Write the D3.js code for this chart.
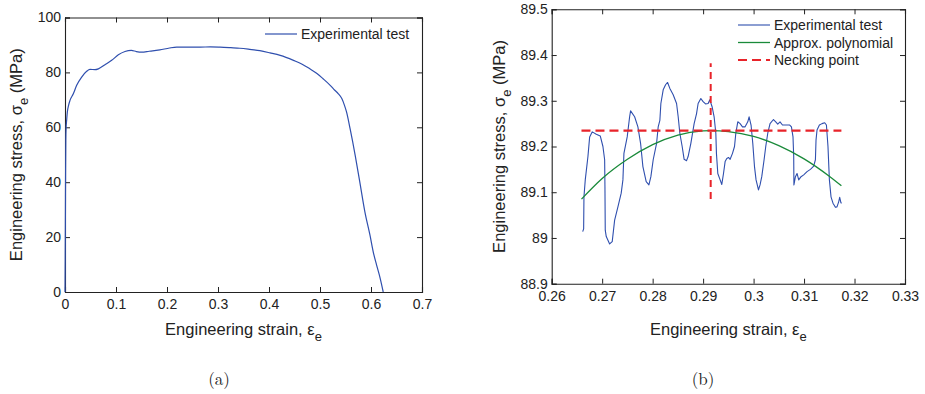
<!DOCTYPE html>
<html>
<head>
<meta charset="utf-8">
<script src="https://cdn.jsdelivr.net/npm/d3@7"></script>
<style>
  body { margin: 0; background: #fff; }
  svg text { font-family: "Liberation Sans", Arial, Helvetica, sans-serif; fill: #222; }
</style>
</head>
<body>
<svg id="chart" width="925" height="394"></svg>
<script>
// ---- panel (a): whole tensile test
var strainA = [0, 0.0004, 0.0008, 0.0012, 0.0016, 0.0022, 0.0032, 0.0046, 0.0070, 0.0098, 0.0163, 0.0229, 0.0327, 0.0425,
               0.049, 0.0588, 0.0654, 0.0784, 0.0915, 0.1046, 0.1176, 0.130, 0.140, 0.150, 0.165, 0.186, 0.205, 0.219,
               0.240, 0.265, 0.285, 0.304, 0.325, 0.343, 0.362, 0.382, 0.402, 0.422, 0.448, 0.465, 0.480, 0.494, 0.506,
               0.520, 0.529, 0.536, 0.543, 0.548, 0.552, 0.559, 0.569, 0.578, 0.588, 0.598, 0.605, 0.611, 0.618, 0.624];
var stressA = [0, 12, 28, 45, 55, 60, 62.5, 65.6, 68.0, 69.8, 72.2, 75.3, 78.3, 80.4,
               81.1, 81.0, 81.3, 82.8, 84.4, 86.4, 87.6, 88.0, 87.6, 87.4, 87.7, 88.2, 88.9, 89.2,
               89.2, 89.2, 89.3, 89.2, 89.0, 88.8, 88.4, 87.9, 87.1, 86.2, 84.4, 83.0, 81.3, 79.6, 77.7,
               75.3, 73.5, 72.2, 70.4, 68.0, 65.6, 59.5, 49.8, 40.1, 29.2, 20.7, 14.1, 9.8, 5.0, 0];
var xTicksA = [0, 0.1, 0.2, 0.3, 0.4, 0.5, 0.6, 0.7];
var xLabelsA = ["0", "0.1", "0.2", "0.3", "0.4", "0.5", "0.6", "0.7"];
var yTicksA = [0, 20, 40, 60, 80, 100];
var yLabelsA = ["0", "20", "40", "60", "80", "100"];

// ---- panel (b): zoom around the maximum
var strainB = [0.26614, 0.26633, 0.26639, 0.26665, 0.26718, 0.26752, 0.26804, 0.26883, 0.26962, 0.27015, 0.27049, 0.27055,
               0.27061, 0.27081, 0.27148, 0.27199, 0.27247, 0.27312, 0.27377, 0.27411, 0.27431, 0.27496, 0.27544, 0.27563,
               0.27643, 0.27708, 0.27761, 0.27807, 0.27872, 0.27926, 0.27965, 0.28011, 0.28078, 0.28110, 0.28143, 0.28163,
               0.28209, 0.28256, 0.28296, 0.28341, 0.28407, 0.28474, 0.28506, 0.28539, 0.28585, 0.28624, 0.28672, 0.28703,
               0.28757, 0.28822, 0.28870, 0.28901, 0.28955, 0.29000, 0.29048, 0.29099, 0.29133, 0.29178, 0.29218, 0.29252,
               0.29264, 0.29291, 0.29337, 0.29370, 0.29404, 0.29436, 0.29469, 0.29503, 0.29535, 0.29582, 0.29622, 0.29648,
               0.29687, 0.29733, 0.29780, 0.29832, 0.29885, 0.29911, 0.29950, 0.29984, 0.30018, 0.30049, 0.30097, 0.30128,
               0.30162, 0.30208, 0.30241, 0.30281, 0.30326, 0.30394, 0.30439, 0.30479, 0.30524, 0.30572, 0.30643, 0.30716,
               0.30750, 0.30781, 0.30795, 0.30799, 0.30829, 0.30861, 0.30894, 0.30940, 0.30993, 0.31059, 0.31126, 0.31191,
               0.31225, 0.31237, 0.31257, 0.31304, 0.31356, 0.31409, 0.31443, 0.31474, 0.31502, 0.31534, 0.31573, 0.31621,
               0.31652, 0.31686, 0.31706, 0.31731, 0.31745];
var stressB = [89.014, 89.020, 89.090, 89.127, 89.178, 89.221, 89.232, 89.227, 89.223, 89.200, 89.171, 89.112,
               89.017, 89.003, 88.987, 88.992, 89.039, 89.068, 89.098, 89.127, 89.185, 89.221, 89.265, 89.278,
               89.265, 89.243, 89.207, 89.156, 89.123, 89.116, 89.134, 89.171, 89.207, 89.243, 89.257, 89.294,
               89.324, 89.335, 89.340, 89.327, 89.313, 89.294, 89.265, 89.229, 89.200, 89.172, 89.169, 89.178,
               89.207, 89.250, 89.272, 89.294, 89.305, 89.298, 89.293, 89.294, 89.302, 89.287, 89.265, 89.229,
               89.185, 89.141, 89.127, 89.117, 89.141, 89.167, 89.174, 89.176, 89.172, 89.185, 89.200, 89.229,
               89.254, 89.250, 89.243, 89.243, 89.254, 89.265, 89.247, 89.207, 89.156, 89.127, 89.105, 89.116,
               89.134, 89.171, 89.200, 89.229, 89.250, 89.259, 89.254, 89.249, 89.254, 89.247, 89.247, 89.247,
               89.243, 89.221, 89.178, 89.116, 89.134, 89.141, 89.127, 89.134, 89.138, 89.145, 89.150, 89.157,
               89.171, 89.214, 89.236, 89.247, 89.250, 89.252, 89.247, 89.200, 89.127, 89.090, 89.076, 89.067,
               89.068, 89.079, 89.089, 89.077, 89.076];
var polyStrain = [0.2659, 0.2700, 0.2750, 0.2800, 0.2850, 0.2900, 0.2915, 0.2950, 0.3000, 0.3050, 0.3100, 0.3150, 0.3174];
var polyStress = [89.085, 89.130, 89.172, 89.204, 89.225, 89.234, 89.2347, 89.2325, 89.222, 89.202, 89.173, 89.135, 89.114];
var neckHStrain = [0.2659, 0.3174];
var neckHStress = [89.2347, 89.2347];
var neckVStrain = [0.2915, 0.2915];
var neckVStress = [89.085, 89.382];
var xTicksB = [0.26, 0.27, 0.28, 0.29, 0.30, 0.31, 0.32, 0.33];
var xLabelsB = ["0.26", "0.27", "0.28", "0.29", "0.3", "0.31", "0.32", "0.33"];
var yTicksB = [88.9, 89.0, 89.1, 89.2, 89.3, 89.4, 89.5];
var yLabelsB = ["88.9", "89", "89.1", "89.2", "89.3", "89.4", "89.5"];

var legendA = ["Experimental test"];
var legendB = ["Experimental test", "Approx. polynomial", "Necking point"];

var BLUE = "#2f4fae", GREEN = "#1a8a3a", RED = "#e8232a";

var svg = d3.select("#chart");

function zip(xs, ys) {
    return xs.map(function (x, i) { return [x, ys[i]]; });
}

function panel(o) {
    var x = d3.scaleLinear().domain(o.xDomain).range([o.left, o.right]);
    var y = d3.scaleLinear().domain(o.yDomain).range([o.bottom, o.top]);
    var g = svg.append("g");

    // axes with inward ticks on all four sides (matlab box)
    var tk = 5;
    g.append("g").attr("transform", "translate(0," + o.bottom + ")")
        .call(d3.axisBottom(x).tickValues(o.xTicks).tickSize(-tk).tickPadding(7)
            .tickFormat(function (d, i) { return o.xLabels[i]; }));
    g.append("g").attr("transform", "translate(0," + o.top + ")")
        .call(d3.axisTop(x).tickValues(o.xTicks).tickSize(-tk).tickFormat(""));
    g.append("g").attr("transform", "translate(" + o.left + ",0)")
        .call(d3.axisLeft(y).tickValues(o.yTicks).tickSize(-tk).tickPadding(4)
            .tickFormat(function (d, i) { return o.yLabels[i]; }));
    g.append("g").attr("transform", "translate(" + o.right + ",0)")
        .call(d3.axisRight(y).tickValues(o.yTicks).tickSize(-tk).tickFormat(""));
    g.selectAll(".domain").attr("stroke", "#222").attr("stroke-width", 1.1);
    g.selectAll(".tick line").attr("stroke", "#222");
    g.selectAll(".tick text").style("font-size", "14px").attr("fill", "#222");

    // x label
    var xl = g.append("text")
        .attr("x", (o.left + o.right) / 2).attr("y", 335)
        .attr("text-anchor", "middle").style("font-size", "16.5px");
    xl.append("tspan").text("Engineering strain, \u03b5");
    xl.append("tspan").attr("dy", 6).style("font-size", "13px").text("e");

    // y label
    var yl = g.append("text")
        .attr("transform", "translate(" + o.yLabelX + "," + (o.top + o.bottom) / 2 + ") rotate(-90)")
        .attr("text-anchor", "middle").style("font-size", "16.5px");
    yl.append("tspan").text("Engineering stress, \u03c3");
    yl.append("tspan").attr("dy", 6).style("font-size", "13px").text("e");
    yl.append("tspan").attr("dy", -6).text(" (MPa)");

    // caption
    g.append("text")
        .attr("x", o.captionX).attr("y", 385)
        .attr("text-anchor", "middle")
        .style("font-family", "'Latin Modern Roman', 'Liberation Serif', 'DejaVu Serif', serif")
        .style("font-size", "17px")
        .text(o.caption);

    return { g: g, x: x, y: y };
}

function line(p, pts, color, width, dash, curve) {
    var gen = d3.line().x(function (d) { return p.x(d[0]); }).y(function (d) { return p.y(d[1]); });
    if (curve) gen.curve(curve);
    p.g.append("path")
        .datum(pts)
        .attr("fill", "none")
        .attr("stroke", color)
        .attr("stroke-width", width)
        .attr("stroke-dasharray", dash || null)
        .attr("stroke-linejoin", "round")
        .attr("d", gen);
}

function legend(p, x0, y0, rows, labels) {
    rows.forEach(function (r, i) {
        var yy = y0 + i * 17.5;
        p.g.append("line")
            .attr("x1", x0).attr("x2", x0 + 32).attr("y1", yy).attr("y2", yy)
            .attr("stroke", r.color).attr("stroke-width", r.width)
            .attr("stroke-dasharray", r.dash || null);
        p.g.append("text")
            .attr("x", x0 + 36).attr("y", yy + 5)
            .style("font-size", "14px")
            .text(labels[i]);
    });
}

// panel (a)
var pa = panel({
    left: 65, right: 422, top: 17.5, bottom: 292,
    xDomain: [0, 0.7], yDomain: [0, 100],
    xTicks: xTicksA, xLabels: xLabelsA, yTicks: yTicksA, yLabels: yLabelsA,
    yLabelX: 22, captionX: 219, caption: "(a)"
});
line(pa, zip(strainA, stressA), BLUE, 1.2, null, d3.curveMonotoneX);
legend(pa, 265, 34, [{ color: BLUE, width: 1.2 }], legendA);

// panel (b)
var pb = panel({
    left: 551.7, right: 905, top: 9.3, bottom: 283.7,
    xDomain: [0.26, 0.33], yDomain: [88.9, 89.5],
    xTicks: xTicksB, xLabels: xLabelsB, yTicks: yTicksB, yLabels: yLabelsB,
    yLabelX: 505, captionX: 703, caption: "(b)"
});
line(pb, zip(strainB, stressB), BLUE, 1.1);
line(pb, zip(polyStrain, polyStress), GREEN, 1.3, null, d3.curveMonotoneX);
line(pb, zip(neckHStrain, neckHStress), RED, 2.4, "9,5");
line(pb, zip(neckVStrain, neckVStress), RED, 2, "7,5");
legend(pb, 738, 25, [
    { color: BLUE, width: 1.1 },
    { color: GREEN, width: 1.3 },
    { color: RED, width: 2.2, dash: "9,5" }
], legendB);
</script>
</body>
</html>
